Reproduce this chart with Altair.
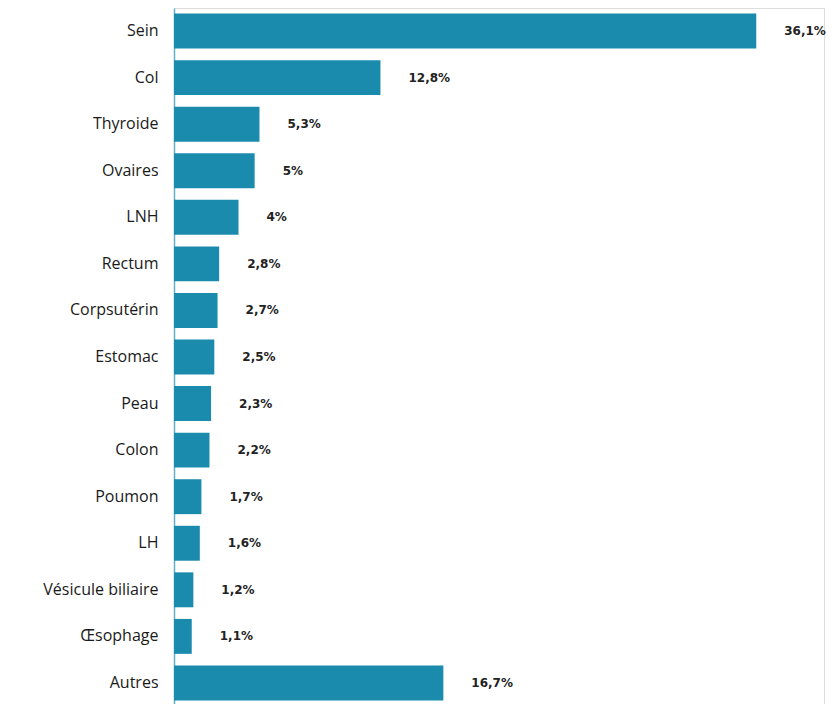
import altair as alt
import pandas as pd

categories = ["Sein", "Col", "Thyroide", "Ovaires", "LNH", "Rectum", "Corpsutérin",
              "Estomac", "Peau", "Colon", "Poumon", "LH", "Vésicule biliaire",
              "Œsophage", "Autres"]
values = [36.1, 12.8, 5.3, 5, 4, 2.8, 2.7, 2.5, 2.3, 2.2, 1.7, 1.6, 1.2, 1.1, 16.7]
labels = ["36,1%", "12,8%", "5,3%", "5%", "4%", "2,8%", "2,7%", "2,5%", "2,3%",
          "2,2%", "1,7%", "1,6%", "1,2%", "1,1%", "16,7%"]

df = pd.DataFrame({"cat": categories, "val": values, "lab": labels})

color = "#1b8bad"
y = alt.Y("cat:N", sort=categories, title=None,
          scale=alt.Scale(paddingInner=0.25, paddingOuter=0.12),
          axis=alt.Axis(ticks=False, domainColor="#5fb0c8", domainWidth=1.5,
                        labelFont="Open Sans", labelFontSize=16, labelColor="#1a1a1a",
                        labelFontWeight=500, labelPadding=16))
x = alt.X("val:Q", title=None, scale=alt.Scale(domain=[0, 40.3], nice=False),
          axis=None)

bars = alt.Chart(df).mark_bar(color=color).encode(x=x, y=y)
text = alt.Chart(df).mark_text(align="left", dx=28, font="DejaVu Sans", fontSize=12,
                               fontWeight="bold", color="#222222").encode(
    x=x, y=y, text="lab:N")

chart = (bars + text).properties(
    width=650, height=698,
    padding={"left": 174, "top": 8, "right": 12, "bottom": 0},
    autosize=alt.AutoSizeParams(type="none"),
).configure_view(stroke=None).configure(background="white")

chart.save("out.html", embed_options={"renderer": "svg", "actions": False})
